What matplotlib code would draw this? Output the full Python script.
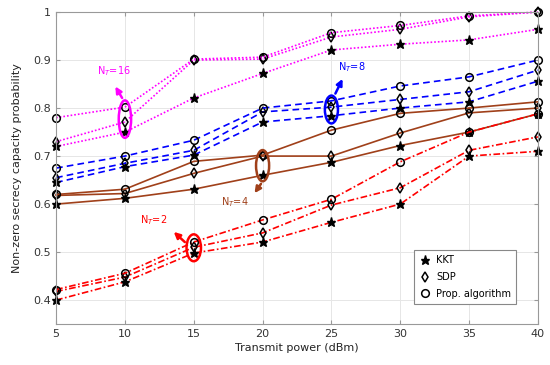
import matplotlib
matplotlib.use("Agg")
import matplotlib.pyplot as plt
from matplotlib.patches import Ellipse

power = [5, 10, 15, 20, 25, 30, 35, 40]

# N_T = 16
kkt16 = [0.72, 0.75, 0.821, 0.872, 0.921, 0.933, 0.942, 0.964]
sdp16 = [0.73, 0.771, 0.90, 0.902, 0.948, 0.964, 0.990, 1.0]
prop16 = [0.78, 0.802, 0.902, 0.906, 0.957, 0.972, 0.992, 1.0]
# N_T = 8
kkt8 = [0.645, 0.678, 0.702, 0.771, 0.784, 0.80, 0.813, 0.856]
sdp8 = [0.655, 0.685, 0.712, 0.792, 0.802, 0.818, 0.834, 0.879]
prop8 = [0.675, 0.70, 0.733, 0.80, 0.815, 0.846, 0.865, 0.90]
# N_T = 4
kkt4 = [0.60, 0.612, 0.631, 0.66, 0.687, 0.722, 0.75, 0.788]
sdp4 = [0.618, 0.622, 0.664, 0.70, 0.70, 0.748, 0.79, 0.80]
prop4 = [0.62, 0.631, 0.689, 0.702, 0.754, 0.789, 0.80, 0.813]
# N_T = 2
kkt2 = [0.40, 0.438, 0.498, 0.521, 0.562, 0.60, 0.70, 0.71]
sdp2 = [0.418, 0.448, 0.51, 0.54, 0.598, 0.634, 0.712, 0.74]
prop2 = [0.422, 0.456, 0.521, 0.567, 0.61, 0.688, 0.75, 0.788]

groups = [
    ("#ff00ff", (0, (1, 1.2)), kkt16, sdp16, prop16),
    ("#0000ff", (0, (4, 2.5)), kkt8, sdp8, prop8),
    ("#a0401a", "-", kkt4, sdp4, prop4),
    ("#ff0000", (0, (4, 1.5, 1, 1.5)), kkt2, sdp2, prop2),
]

fig = plt.figure(figsize=(5.5, 3.65), dpi=100)
ax = fig.add_axes([0.102, 0.112, 0.876, 0.855])

for col, ls, k, s, p in groups:
    ax.plot(power, k, color=col, ls=ls, lw=1.2, marker="*", ms=6.5,
            mfc="k", mec="k", clip_on=False)
    ax.plot(power, s, color=col, ls=ls, lw=1.2, marker="d", ms=5.5,
            mfc="none", mec="k", mew=1.1, clip_on=False)
    ax.plot(power, p, color=col, ls=ls, lw=1.2, marker="o", ms=5.5,
            mfc="none", mec="k", mew=1.1, clip_on=False)

# ellipses + arrows + labels
ann = [
    ("#ff00ff", (10, 0.777), 0.9, 0.078, (9.9, 0.816), (9.2, 0.85), (9.2, 0.877)),
    ("#0000ff", (25, 0.797), 0.95, 0.058, (25.2, 0.825), (25.9, 0.866), (26.5, 0.885)),
    ("#a0401a", (20, 0.68), 0.95, 0.065, (20.0, 0.647), (19.3, 0.618), (18.0, 0.604)),
    ("#ff0000", (15, 0.509), 1.05, 0.056, (14.5, 0.517), (13.4, 0.546), (12.1, 0.567)),
]
texts = ["N$_T$=16", "N$_T$=8", "N$_T$=4", "N$_T$=2"]
for (col, c, w, h, a0, a1, tp), t in zip(ann, texts):
    ax.add_patch(Ellipse(c, w, h, fill=False, ec=col, lw=1.8, zorder=5))
    ax.annotate("", xy=a1, xytext=a0,
                arrowprops=dict(arrowstyle="-|>", color=col, lw=1.8,
                                mutation_scale=9))
    ax.text(tp[0], tp[1], t, color=col, fontsize=7, ha="center", va="center")

# legend
hk, = ax.plot([], [], ls="none", marker="*", ms=6.5, mfc="k", mec="k")
hs, = ax.plot([], [], ls="none", marker="d", ms=5.5, mfc="none", mec="k", mew=1.1)
hp, = ax.plot([], [], ls="none", marker="o", ms=5.5, mfc="none", mec="k", mew=1.1)
leg = ax.legend([hk, hs, hp], ["KKT", "SDP", "Prop. algorithm"],
                loc="lower right", bbox_to_anchor=(0.965, 0.05),
                fontsize=7, fancybox=False, framealpha=1, edgecolor="#888888",
                handlelength=1.2, handletextpad=0.6, borderpad=0.5,
                labelspacing=0.7)
leg.get_frame().set_linewidth(0.8)

ax.set_xlim(5, 40)
ax.set_ylim(0.35, 1)
ax.set_xticks(range(5, 41, 5))
ax.set_yticks([0.4, 0.5, 0.6, 0.7, 0.8, 0.9, 1.0])
ax.set_yticklabels(["0.4", "0.5", "0.6", "0.7", "0.8", "0.9", "1"])
ax.grid(True, color="#e6e6e6", lw=0.7)
ax.set_axisbelow(True)
for sp in ax.spines.values():
    sp.set_color("#999999")
    sp.set_linewidth(0.8)
ax.tick_params(direction="in", length=3, labelsize=8, top=True, right=True,
               colors="#999999", labelcolor="#333333")
ax.set_xlabel("Transmit power (dBm)", fontsize=8, color="#222222", labelpad=3)
ax.set_ylabel("Non-zero secrecy capacity probability", fontsize=8,
              color="#222222", labelpad=8)

fig.savefig("out.png", dpi=100)
